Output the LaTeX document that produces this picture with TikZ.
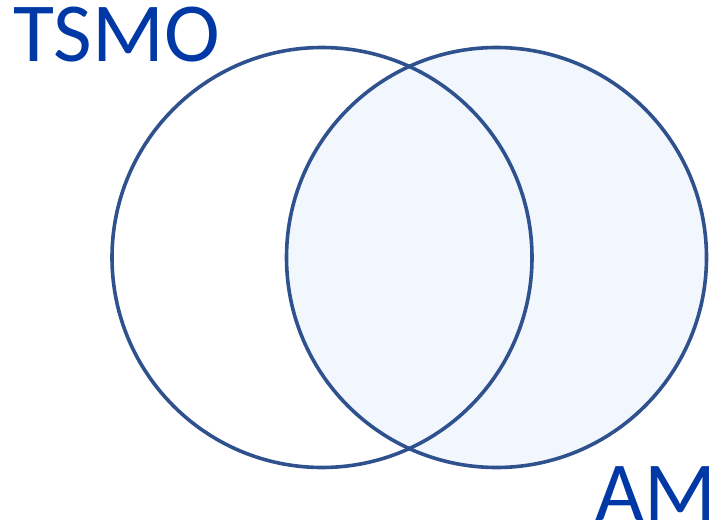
\documentclass[tikz,border=0pt]{standalone}
\usepackage{fontspec}
\setmainfont{Carlito}
\usetikzlibrary{positioning}
\definecolor{ringblue}{RGB}{47,82,143}
\definecolor{labelblue}{RGB}{0,57,166}
\definecolor{softblue}{RGB}{242,247,253}
\tikzset{
  setring/.style={circle,draw=ringblue,line width=3.6pt,
    minimum size=420pt,inner sep=0pt},
  setlabel/.style={font=\fontsize{84}{84}\selectfont,text=labelblue,inner sep=0pt}
}
\begin{document}
\begin{tikzpicture}[x=1pt,y=-1pt]
  \useasboundingbox (0,0) rectangle (723,527);
  \node[setring,fill=softblue] (am) at (496.5,257.5) {};
  \node[setring] (tsmo) at (322,257.5) {};
  \node[setlabel,anchor=base west] (tsmolabel) at (13,62) {TSMO};
  \node[setlabel,anchor=base east] (amlabel) at (716,520) {AM};
\end{tikzpicture}
\end{document}
